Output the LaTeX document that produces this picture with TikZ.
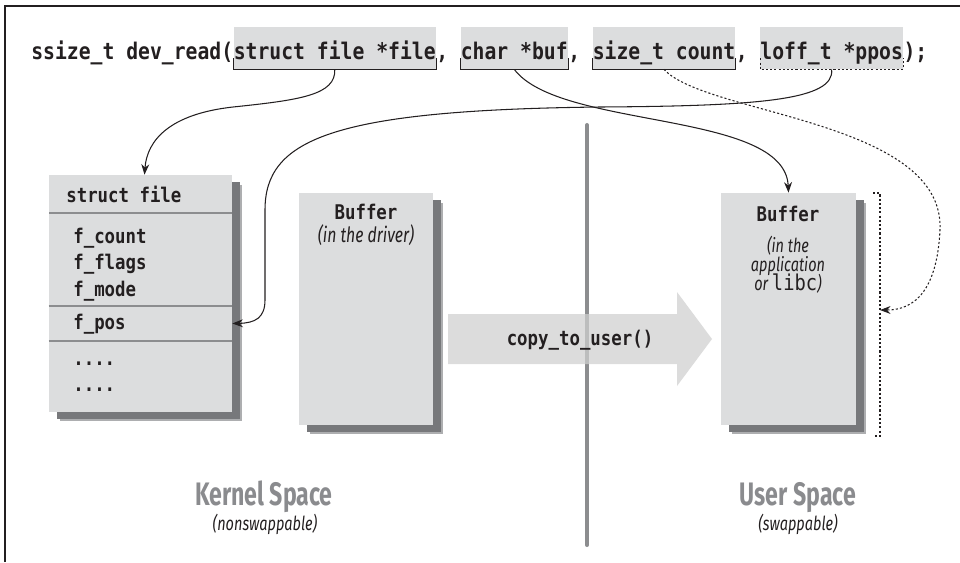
\documentclass[tikz,border=0pt]{standalone}
\usepackage{fontspec}
\newfontfamily\codefont[FakeStretch=0.86]{DejaVu Sans Mono}
\newfontfamily\labelfont[FakeStretch=0.75]{Fira Sans}
\newfontfamily\spacefont[FakeStretch=0.71]{Fira Sans}
\usetikzlibrary{arrows.meta,positioning,shadows}

\definecolor{boxgray}{HTML}{DCDDDE}
\definecolor{rulegray}{HTML}{8C8D8F}
\definecolor{shadowdark}{HTML}{77787B}
\definecolor{shadowlight}{HTML}{ADAEB0}
\definecolor{spacegray}{HTML}{8A8B8E}
\definecolor{inkgray}{HTML}{231F20}

\newcommand\libname[1]{{\codefont\upshape\mdseries\fontsize{12.4}{14}\selectfont #1}}

\tikzset{
  sig/.style={inner sep=0pt, text=inkgray, font=\codefont\bfseries\fontsize{13.05}{16}\selectfont},
  arg/.style={sig, fill=boxgray, text height=0.64cm, text depth=0.2cm},
  bracket/.style={draw=inkgray, line width=0.6pt},
  memory/.style={fill=boxgray, inner sep=0pt,
    general shadow={shadow xshift=0.21cm, shadow yshift=-0.19cm, fill=shadowlight},
    general shadow={shadow xshift=0.16cm, shadow yshift=-0.14cm, fill=shadowdark}},
  boxcode/.style={inner sep=0pt, text=inkgray, font=\codefont\bfseries\fontsize{11.5}{14}\selectfont},
  field/.style={boxcode, text height=0.36cm, text depth=0.16cm},
  rowline/.style={draw=rulegray, line width=1.1pt},
  note/.style={inner sep=0pt, text=inkgray, font=\labelfont\itshape\fontsize{11}{13}\selectfont},
  spacename/.style={inner sep=0pt, text=spacegray, font=\spacefont\bfseries\fontsize{18.5}{21}\selectfont},
  link/.style={draw=inkgray, line width=0.6pt, -{Stealth[length=6pt,width=4.5pt]}},
  dotlink/.style={dash pattern=on 1.2pt off 1.2pt},
  divider/.style={draw=rulegray, line width=2.3pt, line cap=round},
  copyarrow/.style={fill=black!19, fill opacity=0.73},
}

\begin{document}
\begin{tikzpicture}[x=0.02cm, y=-0.02cm]
\useasboundingbox (0,0) rectangle (960,562);
% frame
\draw[inkgray, line width=0.85pt] (5,562) -- (5,6) -- (960,6);

% prototype line
\node[sig, anchor=base west] (sighead) at (31,59) {ssize\_t dev\_read(};
\node[arg, anchor=base west] (argfile) at (sighead.base east) {struct file *file};
\node[sig, anchor=base west] (comma1) at (argfile.base east) {,\phantom{x}};
\node[arg, anchor=base west] (argbuf) at (comma1.base east) {char *buf};
\node[sig, anchor=base west] (comma2) at (argbuf.base east) {,\phantom{x}};
\node[arg, anchor=base west] (argcount) at (comma2.base east) {size\_t count};
\node[sig, anchor=base west] (comma3) at (argcount.base east) {,\phantom{x}};
\node[arg, anchor=base west] (argpos) at (comma3.base east) {loff\_t *ppos};
\node[sig, anchor=base west] (sigtail) at (argpos.base east) {);};
\foreach \a in {argfile,argbuf,argcount}
  \draw[bracket] (\a.south west) ++(0,-11) -- ++(0,11) -- (\a.south east) -- ++(0,-11);
\draw[bracket, dotlink] (argpos.south west) ++(0,-11) -- ++(0,11) -- (argpos.south east) -- ++(0,-11);

% struct file
\node[memory, minimum width=3.66cm, minimum height=4.74cm] (structbox) at (140.5,293.5) {};
\node[boxcode, anchor=base west] (structname) at (66,202) {struct file};
\draw[rowline] (49,213) -- (232,213);
\node[field, anchor=base west] (fcount) at (73,243) {f\_count};
\node[field, anchor=north west] (fflags) at (fcount.south west) {f\_flags};
\node[field, anchor=north west] (fmode) at (fflags.south west) {f\_mode};
\node[inner sep=0pt, minimum width=3.66cm, minimum height=0.7cm] (fposrow) at (140.5,323.5) {};
\draw[rowline] (fposrow.north west) -- (fposrow.north east);
\draw[rowline] (fposrow.south west) -- (fposrow.south east);
\node[field, anchor=base west] (fpos) at (73,329) {f\_pos};
\node[field, anchor=base west] (dotsa) at (73,365) {....};
\node[field, anchor=north west] (dotsb) at (dotsa.south west) {....};

% kernel buffer
\node[memory, minimum width=2.68cm, minimum height=4.64cm] (kbuf) at (366,309) {};
\node[boxcode, anchor=base] (kbufname) at (366,219) {Buffer};
\node[note, anchor=base, font=\labelfont\itshape\fontsize{12}{14}\selectfont] (kbufnote) at (366,242) {(in the driver)};

% user buffer
\node[memory, minimum width=2.7cm, minimum height=4.64cm] (ubuf) at (788.5,309) {};
\node[boxcode, anchor=base] (ubufname) at (788,221) {Buffer};
\node[note, anchor=base] (unotea) at (788,252) {(in the};
\node[note, anchor=base] (unoteb) at (788,271) {application};
\node[note, anchor=base] (unotec) at (788,290) {or~\libname{libc})};
\draw[bracket, dotlink] (873,193) -- (880,193) -- (880,436) -- (873,436);
\coordinate (ubracket) at (880,310);

% kernel / user split and copy
\draw[divider] (587,125) -- (587,545);
\fill[copyarrow] (448,314) -- (677,314) -- (677,292) -- (712,339) -- (677,386) -- (677,364) -- (448,364) -- cycle;
\node[boxcode, anchor=base] (copytouser) at (580,345) {copy\_to\_user()};

\node[spacename, anchor=base] (kspace) at (264,505) {Kernel Space};
\node[note, anchor=base] (knote) at (265,530) {(nonswappable)};
\node[spacename, anchor=base] (uspace) at (798,505) {User Space};
\node[note, anchor=base] (unote) at (798,530) {(swappable)};

% arguments to their targets
\draw[link] (argfile.south) .. controls (336,95) and (300,100) .. (233,107) .. controls (170,114) and (147,140) .. ([xshift=0.08cm]structbox.north);
\draw[link] (argpos.south) .. controls (835,100) and (760,106) .. (600,107) .. controls (330,110) and (265,140) .. (265,210) -- (265,300) .. controls (265,318) and (255,323) .. (fposrow.east);
\draw[link] (argbuf.south) .. controls (560,130) and (785,110) .. (ubuf.north);
\draw[link, dotlink] (argcount.south) .. controls (705,115) and (945,120) .. (940,230) .. controls (937,290) and (915,310) .. (ubracket);
\end{tikzpicture}
\end{document}
